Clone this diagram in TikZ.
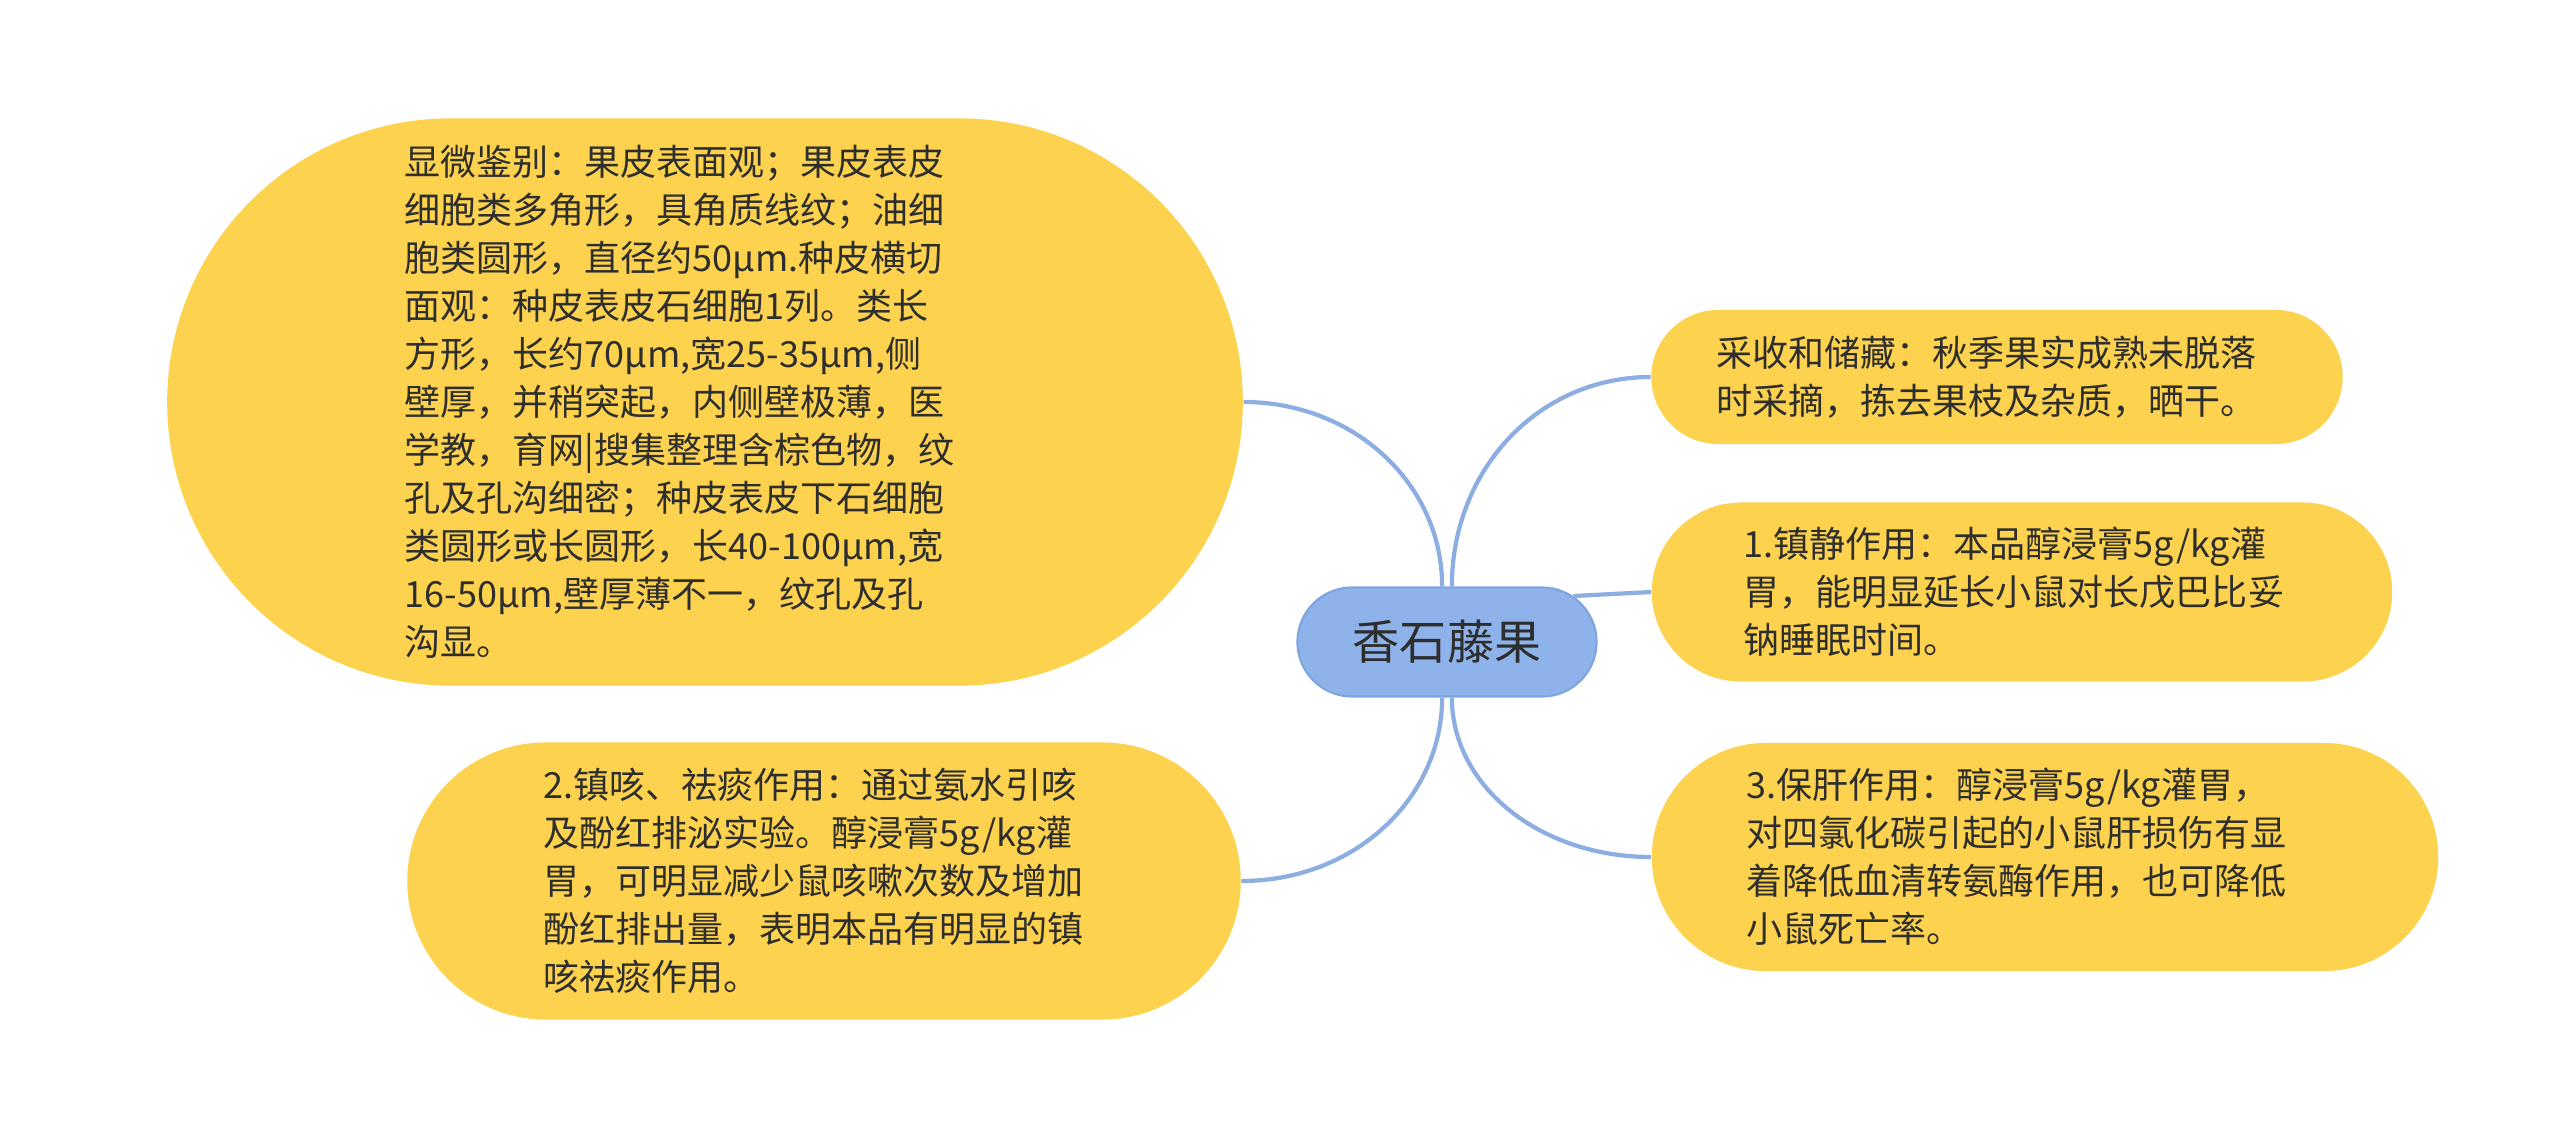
\documentclass[tikz,border=0pt]{standalone}
\usepackage{fontspec}
\newfontfamily\cjk{Noto Sans CJK SC}
\usetikzlibrary{positioning,shapes.misc}
\definecolor{leafyellow}{HTML}{FCD24E}
\definecolor{rootblue}{HTML}{8EB3EB}
\definecolor{rootedge}{HTML}{7FA4E0}
\definecolor{linkblue}{HTML}{8DAEE2}
\definecolor{inktext}{HTML}{2E2E2E}

\begin{document}
\begin{tikzpicture}[x=0.01cm,y=-0.01cm,
    root/.style={rounded rectangle,fill=rootblue,draw=rootedge,line width=0.6pt,
      inner xsep=0pt,minimum width=2.99cm,minimum height=1.09cm,
      font=\cjk\fontsize{13.4pt}{16pt}\selectfont,text=inktext},
    leaf/.style={rectangle,fill=leafyellow,align=left,inner sep=0pt,
      font=\cjk\fontsize{10.24pt}{13.66pt}\selectfont,text=inktext},
    link/.style={draw=linkblue,line width=1.2pt}]
  \fill[white](0,0) rectangle (2560,1140);
  \useasboundingbox (0,0) rectangle (2560,1140);
  % centre and branches
  \node[root](root) at (1447,642){香石藤果};
  \node[leaf,text width=6cm,minimum width=10.75cm,minimum height=5.67cm,
    rounded corners=2.835cm](micro) at (705,402){显微鉴别：果皮表面观；果皮表皮\\
    细胞类多角形，具角质线纹；油细\\
    胞类圆形，直径约50μm.种皮横切\\
    面观：种皮表皮石细胞1列。类长\\
    方形，长约70μm,宽25-35μm,侧\\
    壁厚，并稍突起，内侧壁极薄，医\\
    学教，育网|搜集整理含棕色物，纹\\
    孔及孔沟细密；种皮表皮下石细胞\\
    类圆形或长圆形，长40-100μm,宽\\
    16-50μm,壁厚薄不一，纹孔及孔\\
    沟显。};
  \node[leaf,text width=5.6cm,minimum width=8.33cm,minimum height=2.77cm,
    rounded corners=1.385cm](cough) at (824,881){2.镇咳、祛痰作用：通过氨水引咳\\
    及酚红排泌实验。醇浸膏5g/kg灌\\
    胃，可明显减少鼠咳嗽次数及增加\\
    酚红排出量，表明本品有明显的镇\\
    咳祛痰作用。};
  \node[leaf,text width=5.6cm,minimum width=6.91cm,minimum height=1.34cm,
    rounded corners=0.67cm](harvest) at (1997,377){采收和储藏：秋季果实成熟未脱落\\
    时采摘，拣去果枝及杂质，晒干。};
  \node[leaf,text width=5.56cm,minimum width=7.4cm,minimum height=1.79cm,
    rounded corners=0.895cm](sedate) at (2022,592){1.镇静作用：本品醇浸膏5g/kg灌\\
    胃，能明显延长小鼠对长戊巴比妥\\
    钠睡眠时间。};
  \node[leaf,text width=5.96cm,minimum width=7.86cm,minimum height=2.28cm,
    rounded corners=1.14cm](liver) at (2045,857){3.保肝作用：醇浸膏5g/kg灌胃，\\
    对四氯化碳引起的小鼠肝损伤有显\\
    着降低血清转氨酶作用，也可降低\\
    小鼠死亡率。};
  % connectors
  \draw[link](root.95) .. controls +(0,-103) and +(110,0) .. (micro.east);
  \draw[link](root.265) .. controls +(0,101) and +(113,0) .. (cough.east);
  \draw[link](root.85) .. controls +(0,-117) and +(-112,0) .. (harvest.west);
  \draw[link](root.20) -- (sedate.west);
  \draw[link](root.275) .. controls +(0,88) and +(-112,0) .. (liver.west);
\end{tikzpicture}
\end{document}
